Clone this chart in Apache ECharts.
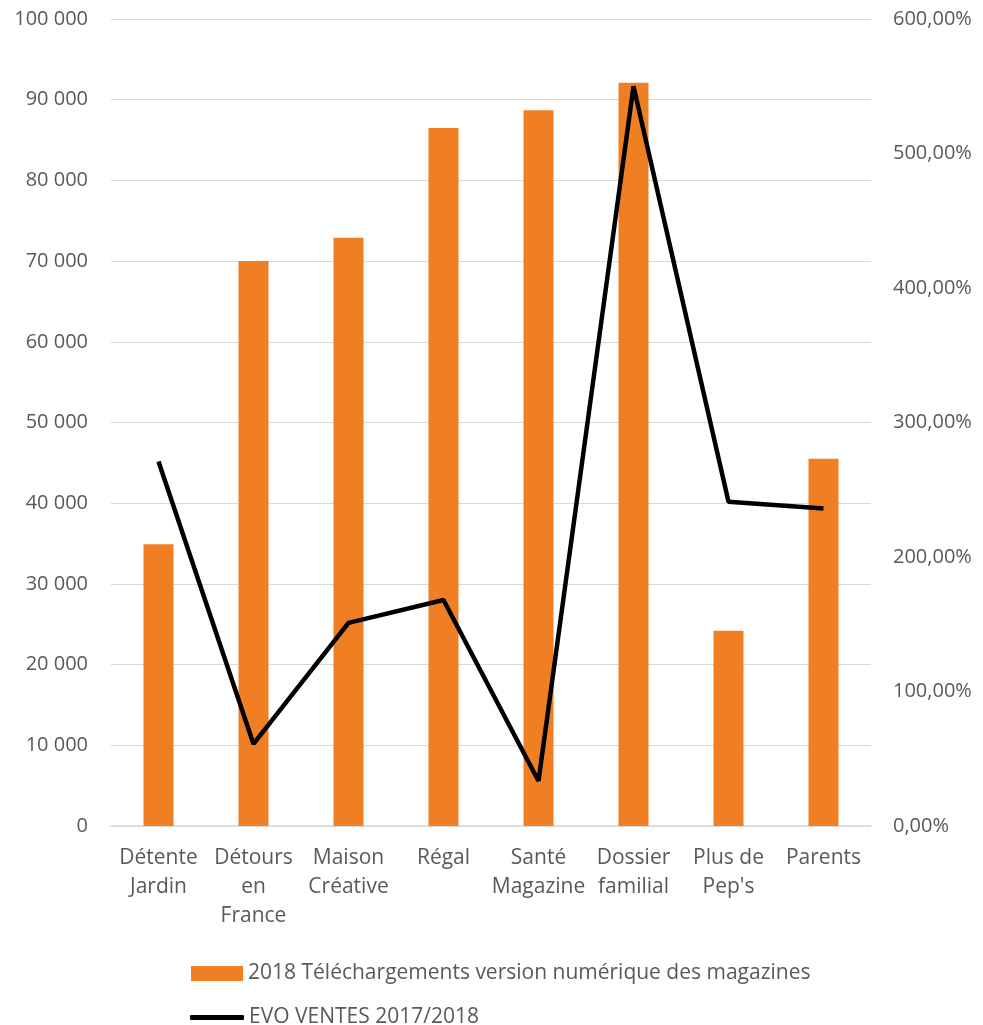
<!DOCTYPE html>
<html>
<head>
<meta charset="utf-8">
<script src="https://cdn.jsdelivr.net/npm/echarts@6/dist/echarts.min.js"></script>
<style>
  html, body { margin: 0; padding: 0; background: #fff; }
  #chart { width: 983px; height: 1025px; }
</style>
</head>
<body>
<div id="chart"></div>
<script>
    // donnees
    const categories = ["Détente\nJardin", "Détours\nen\nFrance", "Maison\nCréative", "Régal", "Santé\nMagazine", "Dossier\nfamilial", "Plus de\nPep's", "Parents"];
    const telechargements = [34900, 70000, 72900, 86500, 88700, 92100, 24200, 45500];
    const evoVentes = [2.71, 0.61, 1.51, 1.68, 0.335, 5.50, 2.41, 2.36];
    const barName = "2018 Téléchargements version numérique des magazines";
    const lineName = "EVO VENTES 2017/2018";

    const txt = "#595959";
    const font = "Open Sans";
    const fs = 20;

    function milliers(v) {
        return String(v).replace(/\B(?=(\d{3})+(?!\d))/g, " ");
    }

    var myChart = echarts.init(document.getElementById("chart"));
    var option = {
        animation: false,
        textStyle: { fontFamily: font },
        grid: { left: 111, right: 112, top: 19, bottom: 199 },
        legend: [
            {
                left: 186,
                top: 958,
                itemWidth: 52,
                itemHeight: 15,
                textStyle: { color: txt, fontSize: 21, fontFamily: font },
                data: [{ name: barName, icon: "rect" }]
            },
            {
                left: 185,
                top: 1002,
                itemWidth: 54,
                itemHeight: 5,
                textStyle: { color: txt, fontSize: 21, fontFamily: font },
                data: [{ name: lineName, icon: "roundRect" }]
            }
        ],
        xAxis: {
            type: "category",
            data: categories,
            axisLine: { lineStyle: { color: "#d9d9d9", width: 1.5 } },
            axisTick: { show: false },
            axisLabel: { color: txt, fontSize: 21, lineHeight: 29, margin: 18, interval: 0 }
        },
        yAxis: [
            {
                type: "value",
                min: 0, max: 100000, interval: 10000,
                axisLine: { show: false },
                axisTick: { show: false },
                splitLine: { lineStyle: { color: "#d9d9d9", width: 1 } },
                axisLabel: { color: txt, fontSize: fs, margin: 23, formatter: milliers }
            },
            {
                type: "value",
                min: 0, max: 6, interval: 1,
                axisLine: { show: false },
                axisTick: { show: false },
                splitLine: { show: false },
                axisLabel: {
                    color: txt, fontSize: fs, margin: 22,
                    formatter: v => (v * 100).toFixed(2).replace(".", ",") + "%"
                }
            }
        ],
        series: [
            {
                name: barName,
                type: "bar",
                data: telechargements,
                barWidth: 30,
                itemStyle: { color: "#f07f24" }
            },
            {
                name: lineName,
                type: "line",
                yAxisIndex: 1,
                data: evoVentes,
                symbol: "none",
                lineStyle: { color: "#000", width: 4.5 },
                itemStyle: { color: "#000" }
            }
        ]
    };
    myChart.setOption(option);
</script>
</body>
</html>
